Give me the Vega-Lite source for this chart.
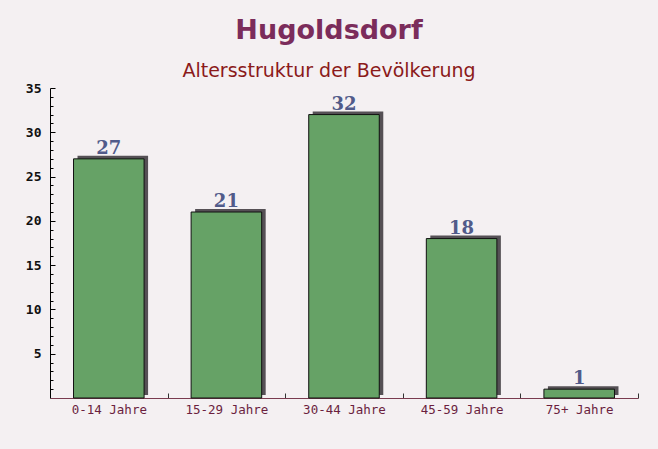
{
  "$schema": "https://vega.github.io/schema/vega-lite/v6.json",
  "autosize": "none",
  "width": 588,
  "height": 310,
  "padding": {"left": 50, "top": 88, "right": 20, "bottom": 51},
  "background": "#f4f0f2",
  "title": {
    "text": "Hugoldsdorf",
    "subtitle": "Altersstruktur der Bevölkerung",
    "anchor": "middle",
    "dx": -15,
    "offset": 0,
    "font": "DejaVu Sans",
    "fontSize": 27,
    "fontWeight": "bold",
    "color": "#7b2c5b",
    "subtitleFont": "DejaVu Sans",
    "subtitleFontSize": 19,
    "subtitleColor": "#8b1a1a",
    "subtitlePadding": 17
  },
  "config": {"view": {"stroke": null}},
  "data": {
    "values": [
      {"group": "0-14 Jahre", "count": 27},
      {"group": "15-29 Jahre", "count": 21},
      {"group": "30-44 Jahre", "count": 32},
      {"group": "45-59 Jahre", "count": 18},
      {"group": "75+ Jahre", "count": 1}
    ]
  },
  "encoding": {
    "x": {
      "field": "group",
      "type": "nominal",
      "sort": null,
      "title": null,
      "scale": {"paddingInner": 0.4, "paddingOuter": 0.2},
      "axis": {
        "labelAngle": 0,
        "ticks": true,
        "bandPosition": 1,
        "tickOffset": 23.5,
        "labelOffset": -23.5,
        "domainColor": "#7a3b4f",
        "tickColor": "#333333",
        "tickWidth": 1,
        "tickSize": -5,
        "labelFont": "DejaVu Sans Mono",
        "labelFontSize": 12.5,
        "labelColor": "#6b1f3f",
        "labelPadding": 10
      }
    },
    "y": {
      "field": "count",
      "type": "quantitative",
      "title": null,
      "scale": {"domain": [0, 35]},
      "axis": {
        "values": [1,2,3,4,5,6,7,8,9,10,11,12,13,14,15,16,17,18,19,20,21,22,23,24,25,26,27,28,29,30,31,32,33,34,35],
        "labelExpr": "datum.value % 5 === 0 ? datum.label : ''",
        "grid": false,
        "domainColor": "#000000",
        "tickColor": "#000000",
        "tickSize": {"condition": {"test": "datum.value % 5 === 0", "value": -5}, "value": -3},
        "labelPadding": 14,
        "labelFont": "DejaVu Sans Mono",
        "labelFontWeight": "bold",
        "labelFontSize": 13,
        "labelColor": "#111111"
      }
    }
  },
  "layer": [
    {
      "mark": {"type": "bar", "color": "#555055", "xOffset": 4, "yOffset": -3}
    },
    {
      "mark": {"type": "bar", "color": "#66a266", "stroke": "#111111", "strokeWidth": 1}
    },
    {
      "mark": {
        "type": "text",
        "dy": -1,
        "baseline": "bottom",
        "font": "DejaVu Serif",
        "fontWeight": "bold",
        "fontSize": 18,
        "color": "#515b8a"
      },
      "encoding": {"text": {"field": "count", "type": "quantitative"}}
    }
  ]
}
